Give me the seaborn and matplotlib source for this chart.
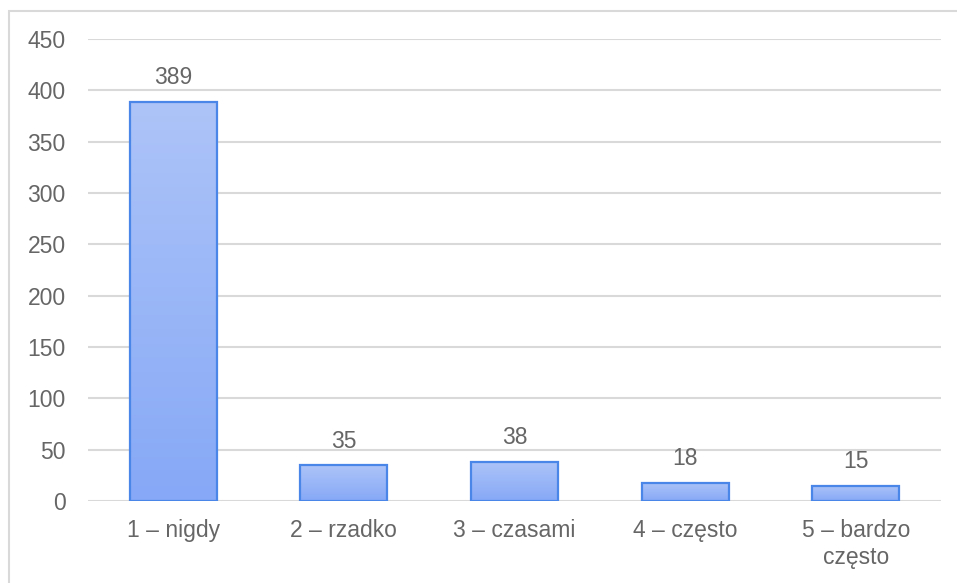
import numpy as np
import pandas as pd
import matplotlib
matplotlib.use('Agg')
import matplotlib.pyplot as plt
import seaborn as sns
from matplotlib.colors import LinearSegmentedColormap
from matplotlib.patches import Rectangle

# ── Dane ──────────────────────────────────────────────────────────────────────
kategorie = ['1 – nigdy', '2 – rzadko', '3 – czasami', '4 – często', '5 – bardzo\nczęsto']
liczebnosc = [389, 35, 38, 18, 15]
y_ticks = [0, 50, 100, 150, 200, 250, 300, 350, 400, 450]

df = pd.DataFrame({'kat': kategorie, 'n': liczebnosc})

sns.set_theme(style='white')
plt.rcParams['font.family'] = ['Liberation Sans', 'DejaVu Sans']

SZARY = '#666666'
fig = plt.figure(figsize=(9.57, 5.83), dpi=100)
ax = fig.add_axes([88 / 957, 82 / 583, (941 - 88) / 957, (501 - 39) / 583])

sns.barplot(data=df, x='kat', y='n', color='#9db7f6', width=0.51,
            edgecolor='#4a86e8', linewidth=1.6, saturation=1, ax=ax, zorder=3)

# gradient w każdym słupku (jaśniej u góry)
cmap = LinearSegmentedColormap.from_list('g', ['#86a8f6', '#adc4f8'])
grad = np.linspace(0, 1, 256).reshape(-1, 1)
for p in ax.patches:
    x0, y0 = p.get_x(), p.get_y()
    w, h = p.get_width(), p.get_height()
    im = ax.imshow(grad, cmap=cmap, origin='lower', aspect='auto',
                   extent=(x0, x0 + w, y0, y0 + h), zorder=2.5)
    im.set_clip_path(p)
    p.set_facecolor('none')

ax.set_xlim(-0.5, 4.5)
ax.set_ylim(0, 450)
ax.set_yticks(y_ticks)
ax.grid(axis='y', color='#d9d9d9', linewidth=1.5, zorder=0)
ax.set_axisbelow(True)
for s in ax.spines.values():
    s.set_visible(False)
ax.tick_params(axis='both', length=0, labelsize=16.5, colors=SZARY)
ax.tick_params(axis='y', pad=16)
ax.tick_params(axis='x', pad=13)
ax.set_xlabel('')
ax.set_ylabel('')

for i, v in enumerate(liczebnosc):
    ax.annotate(str(v), (i, v), xytext=(0, 9), textcoords='offset points',
                ha='center', va='bottom', fontsize=16.5, color=SZARY)

# ramka wykresu
fig.patches.append(Rectangle((9 / 957, -0.1), 1.2, 1 - 11 / 583 + 0.1,
                             transform=fig.transFigure, fill=False,
                             edgecolor='#d9d9d9', linewidth=1.5))

fig.savefig('out.png', dpi=100)
